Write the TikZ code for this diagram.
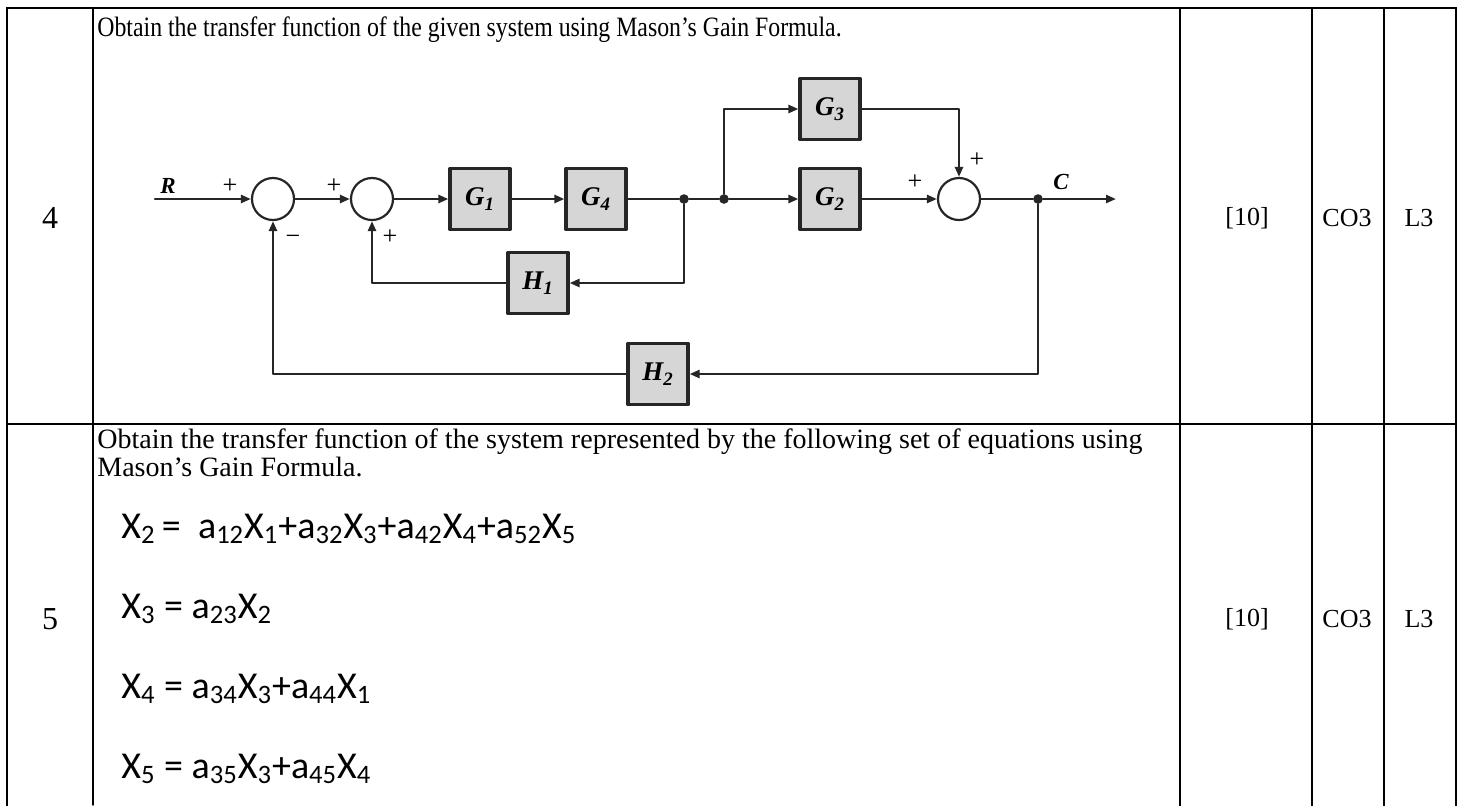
\documentclass[tikz,border=0pt]{standalone}
\usepackage{fontspec}
\setmainfont{Liberation Serif}
\newfontfamily\eqfont{Carlito}
\newfontfamily\narrowfont[FakeStretch=0.85]{Liberation Serif}
\usetikzlibrary{arrows.meta}

\newcommand{\xvar}[1]{X\textsubscript{#1}}
\newcommand{\avar}[1]{a\textsubscript{#1}}

\begin{document}
\begin{tikzpicture}[
	x=0.5pt, y=-0.5pt,
	every node/.style={font=\fontsize{13}{15}\selectfont, inner sep=0pt},
	line cap=round,
	line join=round,
	grid/.style={line width=1pt, line cap=rect},
	txt/.style={anchor=base west, font=\fontsize{14}{16}\selectfont},
	blk/.style={draw=black!85, fill=black!16, line width=1.6pt,
		minimum width=30pt, minimum height=30.5pt,
		font=\fontsize{13.5}{15}\selectfont\bfseries\itshape},
	summer/.style={circle, draw=black!85, line width=1.1pt, minimum size=21pt},
	junc/.style={circle, fill=black!85, minimum size=4.8pt},
	wire/.style={draw=black!85, line width=1.3pt},
	sig/.style={wire, -{Triangle[length=5pt, width=4pt]}},
	sign/.style={font=\fontsize{13}{15}\selectfont},
	var/.style={font=\fontsize{11.5}{13}\selectfont\bfseries\itshape},
	eqn/.style={anchor=base west, font=\fontsize{19}{22}\selectfont\eqfont}
	]
	
	\useasboundingbox (0,0) rectangle (1461,805);
	
	% Table rules
	\draw[grid] (7,8) -- (1456,8);
	\draw[grid] (7,424) -- (1456,424);
	\foreach \cx in {7,1180,1312,1384,1456}
		\draw[grid] (\cx,8) -- (\cx,805);
	\draw[line width=0.7pt] (93,8) -- (93,805);
	\draw[line width=1.1pt] (93,8) -- (93,42);
	
	% Number, marks, CO and level of each row
	\foreach \ry/\num in {218/4, 619/5} {
		\node[font=\fontsize{16}{18}\selectfont] (num\num) at (50,\ry) {\num};
		\node (mark\num) at (1247,\ry) {[10]};
		\node (co\num) at (1347,\ry) {CO3};
		\node (lvl\num) at (1419,\ry) {L3};
	}
	
	% Question 4
	\node[txt, font=\fontsize{14}{16}\selectfont\narrowfont] (q4) at (97,36) {Obtain the transfer function of the given system using Mason’s Gain Formula.};
	
	% Block diagram
	\node[summer] (s1) at (273,199) {};
	\node[summer] (s2) at (372,199) {};
	\node[blk] (g1) at (480,199) {G\textsubscript{1}};
	\node[blk] (g4) at (596,199) {G\textsubscript{4}};
	\node[junc] (j1) at (684,199) {};
	\node[junc] (j2) at (724,199) {};
	\node[blk] (g3) at (830,109) {G\textsubscript{3}};
	\node[blk] (g2) at (830,199) {G\textsubscript{2}};
	\node[summer] (s3) at (959,199) {};
	\node[junc] (jc) at (1038,199) {};
	\node[blk] (h1) at (538,283) {H\textsubscript{1}};
	\node[blk] (h2) at (658,374) {H\textsubscript{2}};
	\coordinate (rin) at (155,199);
	\coordinate (cout) at (1116,199);
	
	\draw[sig] (rin) -- (s1);
	\draw[sig] (s1) -- (s2);
	\draw[sig] (s2) -- (g1);
	\draw[sig] (g1) -- (g4);
	\draw[wire] (g4) -- (j1);
	\draw[wire] (j1) -- (j2);
	\draw[sig] (j2) -- (g2);
	\draw[sig] (j2) |- (g3);
	\draw[sig] (g3) -| (s3);
	\draw[sig] (g2) -- (s3);
	\draw[wire] (s3) -- (jc);
	\draw[sig] (jc) -- (cout);
	\draw[sig] (j1) |- (h1);
	\draw[sig] (h1) -| (s2);
	\draw[sig] (jc) |- (h2);
	\draw[sig] (h2) -| (s1);
	
	% Signal names and signs
	\node[var] (lblr) at (168,186) {R};
	\node[var] (lblc) at (1061,182) {C};
	\node[sign] (p1) at (230,186) {+};
	\node[sign] (m1) at (293,240) {−};
	\node[sign] (p2) at (334,186) {+};
	\node[sign] (p3) at (390,237) {+};
	\node[sign] (p4) at (915,182) {+};
	\node[sign] (p5) at (977,160) {+};
	
	% Question 5
	\node[txt] (q5a) at (97,448) {Obtain the transfer function of the system represented by the following set of equations using};
	\node[txt] (q5b) at (97,476) {Mason’s Gain Formula.};
	
	\node[eqn] (eq2) at (121,538) {\xvar{2}\,=\ \ \avar{12}\xvar{1}+\avar{32}\xvar{3}+\avar{42}\xvar{4}+\avar{52}\xvar{5}};
	\node[eqn] (eq3) at (121,618) {\xvar{3} = \avar{23}\xvar{2}};
	\node[eqn] (eq4) at (121,698) {\xvar{4} = \avar{34}\xvar{3}+\avar{44}\xvar{1}};
	\node[eqn] (eq5) at (121,778) {\xvar{5} = \avar{35}\xvar{3}+\avar{45}\xvar{4}};
	
\end{tikzpicture}
\end{document}
